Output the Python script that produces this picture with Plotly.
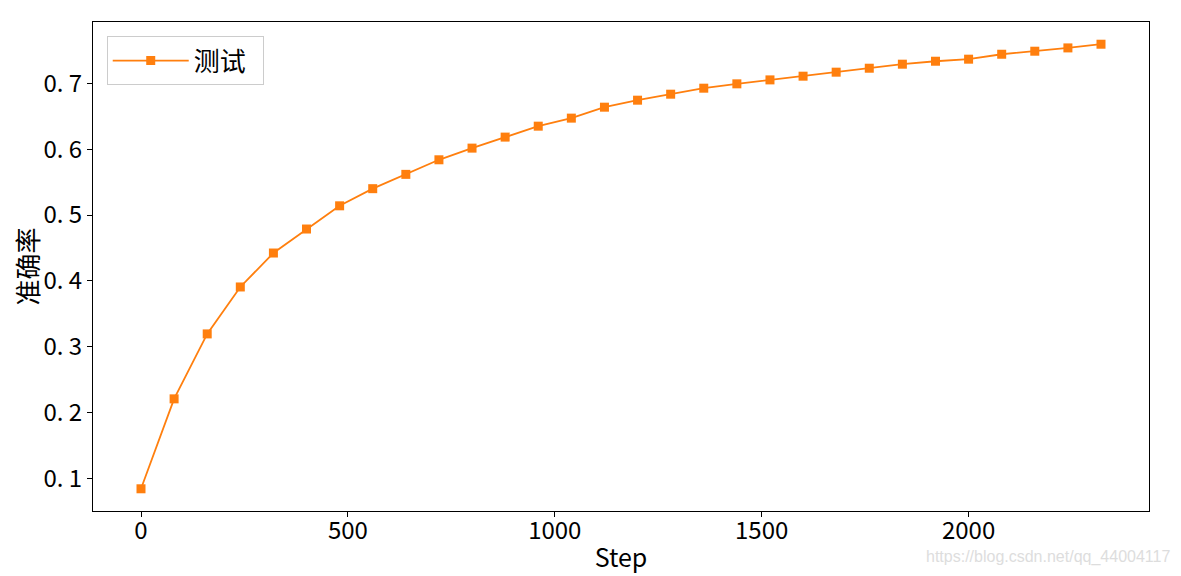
import plotly.graph_objects as go

# test accuracy per step
steps = list(range(0, 2400, 80))
accuracy = [0.0848, 0.2212, 0.3197, 0.3909, 0.4424, 0.4788, 0.5140, 0.5400,
            0.5617, 0.5838, 0.6015, 0.6182, 0.6348, 0.6470, 0.6636, 0.6742,
            0.6833, 0.6924, 0.6990, 0.7050, 0.7106, 0.7167, 0.7227, 0.7288,
            0.7333, 0.7364, 0.7439, 0.7485, 0.7535, 0.7591]
y_ticks = [0.1, 0.2, 0.3, 0.4, 0.5, 0.6, 0.7]
x_ticks = [0, 500, 1000, 1500, 2000]

FONT = "Noto Sans CJK SC"

fig = go.Figure()
fig.add_trace(go.Scatter(x=steps, y=accuracy, mode='lines+markers', name='测试\u00a0\u00a0',
                         showlegend=True,
                         line=dict(color='#ff7f0e', width=1.8),
                         marker=dict(symbol='square', size=9, color='#ff7f0e')))

axis_style = dict(showline=True, mirror=True, linecolor='black', linewidth=1,
                  showgrid=False, zeroline=False, ticks='outside', ticklen=5,
                  tickcolor='black', automargin=False,
                  tickfont=dict(family=FONT, size=24, color='black'))

fig.update_xaxes(range=[-116, 2436], tickvals=x_ticks, ticklabelstandoff=-7,
                 title=dict(text='Step', font=dict(family=FONT, size=25, color='black'),
                            standoff=4),
                 **axis_style)
fig.update_yaxes(range=[0.0511, 0.7928], tickvals=y_ticks,
                 ticktext=['0. ' + str(int(round(v * 10))) for v in y_ticks],
                 title=dict(text='准确率', font=dict(family=FONT, size=26, color='black'),
                            standoff=0),
                 **axis_style)

fig.add_annotation(text='https://blog.csdn.net/qq_44004117', xref='paper', yref='paper',
                   x=1.0218, y=-0.094, xanchor='right', yanchor='middle', showarrow=False,
                   font=dict(family='Liberation Sans', size=16, color='#dddddd'))

# page body adds an 8px offset, so shrink the figure to keep the same frame
fig.update_layout(width=1173, height=568, plot_bgcolor='white', paper_bgcolor='white',
                  margin=dict(l=85, r=32, t=14, b=65),
                  legend=dict(x=0.013, y=0.971, xanchor='left', yanchor='top',
                              bordercolor='#cccccc', borderwidth=1, bgcolor='white',
                              font=dict(family=FONT, size=26, color='black'),
                              itemwidth=76))
fig.write_html("out.html")
